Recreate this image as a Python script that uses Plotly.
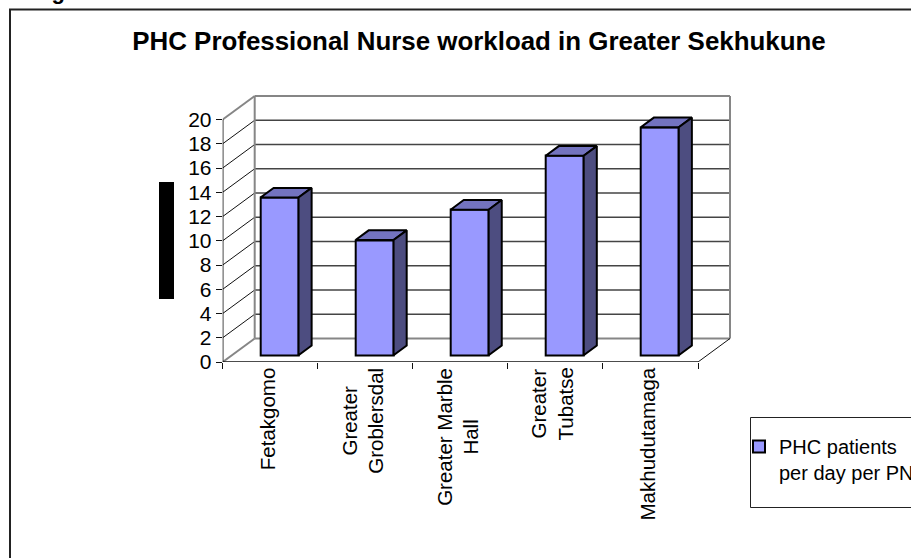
import plotly.graph_objects as go

categories = ["Fetakgomo", "Greater<br>Groblersdal", "Greater Marble<br>Hall", "Greater<br>Tubatse", "Makhudutamaga"]
values = [13.0, 9.5, 12.0, 16.45, 18.8]
series_name = "PHC patients<br>per day per PN"
title_text = "PHC Professional Nurse workload in Greater Sekhukune"
y_ticks = list(range(0, 21, 2))

W, H = 911, 558
X0, X1 = 222.7, 698.0      # front floor line, px
Y0, Y20 = 362.0, 119.5     # front axis, px
PAD_X, PAD_Y = 36.0, 27.0  # room for the depth
ux = (X1 - X0) / 5
uy = (Y0 - Y20) / 20
DX = 32.0 / ux             # depth in x units
DY = 23.5 / uy             # depth in y units
BAR_W = 38.0 / ux
F0, F1 = 0.29, 0.70        # bar front/back position within depth

FRONT = "#9999FF"
TOP = "#7373BF"
SIDE = "#4D4D80"
WALL = "#868686"
INK = "#111111"
FONT = "Liberation Sans, Arial, sans-serif"

x_range = [0, 5 + PAD_X / ux]
y_range = [0, 20 + PAD_Y / uy]
centers = [i + 0.5 + F0 * DX for i in range(5)]
base = F0 * DY

fig = go.Figure()
fig.add_trace(go.Bar(
    x=centers, y=values, base=base, width=BAR_W, name=series_name,
    marker=dict(color=FRONT, line=dict(color="black", width=2)),
    showlegend=True, hoverinfo="skip",
))

ddx = (F1 - F0) * DX
ddy = (F1 - F0) * DY
for c, v in zip(centers, values):
    l, r, b, t = c - BAR_W / 2, c + BAR_W / 2, base, base + v
    fig.add_trace(go.Scatter(
        x=[l, r, r + ddx, l + ddx, l], y=[t, t, t + ddy, t + ddy, t],
        mode="lines", fill="toself", fillcolor=TOP,
        line=dict(color="black", width=2), showlegend=False, hoverinfo="skip"))
    fig.add_trace(go.Scatter(
        x=[r, r + ddx, r + ddx, r, r], y=[b, b + ddy, t + ddy, t, b],
        mode="lines", fill="toself", fillcolor=SIDE,
        line=dict(color="black", width=2), showlegend=False, hoverinfo="skip"))

shapes = []
def seg(x0, y0, x1, y1, color, width):
    shapes.append(dict(type="line", xref="x", yref="y", x0=x0, y0=y0, x1=x1, y1=y1,
                       line=dict(color=color, width=width), layer="below"))

# back-wall and side-wall gridlines
for t in y_ticks:
    if 0 < t < 20:
        seg(DX, t + DY, 5 + DX, t + DY, "#444444", 1.3)
        seg(0, t, DX, t + DY, INK, 1)
# walls
seg(DX, 0 + DY, 5 + DX, 0 + DY, WALL, 2)
seg(DX, 20 + DY, 5 + DX, 20 + DY, WALL, 2)
seg(DX, DY, DX, 20 + DY, WALL, 2)
seg(5 + DX, DY, 5 + DX, 20 + DY, WALL, 2)
seg(0, 20, DX, 20 + DY, WALL, 2)
seg(0, 0, DX, DY, WALL, 2)
seg(5, 0, 5 + DX, DY, INK, 1)
seg(0, 0, 0, 20, INK, 1.5)
seg(0, 0, 5, 0, INK, 1.5)

def paper_rect(x0, y0, x1, y1, **kw):
    shapes.append(dict(type="rect", xref="paper", yref="paper",
                       x0=x0 / W, x1=x1 / W, y0=1 - y0 / H, y1=1 - y1 / H, **kw))

paper_rect(10, 9.5, W + 20, H + 20, line=dict(color="#222222", width=2), layer="below")
paper_rect(159, 182, 174, 299, fillcolor="black", line=dict(width=0))
paper_rect(750.5, 417.5, W + 20, 507.5, line=dict(color="#222222", width=1), fillcolor="white", layer="below")

annotations = [dict(text="<b>Figure</b>", xref="paper", yref="paper", x=30 / W, y=1 + 9 / H,
                    xanchor="left", yanchor="middle", showarrow=False,
                    font=dict(size=22, family=FONT))]
for i, label in enumerate(categories):
    annotations.append(dict(text=label, xref="x", yref="paper", x=i + 0.5, xshift=-3,
                            y=1 - 365.5 / H, yanchor="top", xanchor="center",
                            textangle=-90, align="center", showarrow=False,
                            font=dict(size=20.5, family=FONT, color="black")))

fig.update_layout(
    width=W, height=H,
    margin=dict(l=0, r=0, t=0, b=0, autoexpand=False),
    paper_bgcolor="white", plot_bgcolor="rgba(0,0,0,0)",
    font=dict(family=FONT, color="black", size=19),
    title=dict(text="<b>" + title_text + "</b>", x=479 / W, xanchor="center",
               y=1 - 40.5 / H, yanchor="middle", font=dict(size=25.9)),
    shapes=shapes,
    annotations=annotations,
    xaxis=dict(domain=[X0 / W, (X0 + 5 * ux + PAD_X) / W], range=x_range,
               tickmode="array", tickvals=[i + 0.5 for i in range(5)], ticktext=categories,
               showticklabels=False, ticks="", showgrid=False, zeroline=False, showline=False,
               minor=dict(tickmode="array", tickvals=list(range(6)), ticks="outside",
                          ticklen=6, tickcolor=INK, tickwidth=1, showgrid=False)),
    yaxis=dict(domain=[1 - Y0 / H, 1 - (Y20 - PAD_Y) / H], range=y_range,
               tickmode="array", tickvals=y_ticks, ticks="outside", ticklen=6,
               tickcolor=INK, tickwidth=1, showgrid=False, zeroline=False, showline=False,
               tickfont=dict(size=21)),
    legend=dict(xref="container", yref="container", x=749 / W, y=1 - 427 / H,
                xanchor="left", yanchor="top", bgcolor="rgba(0,0,0,0)", borderwidth=0,
                font=dict(size=20), indentation=-10, valign="top"),
    bargap=0,
)
fig.write_html("out.html", post_script="document.body.style.margin='0';",
               config=dict(displayModeBar=False))
